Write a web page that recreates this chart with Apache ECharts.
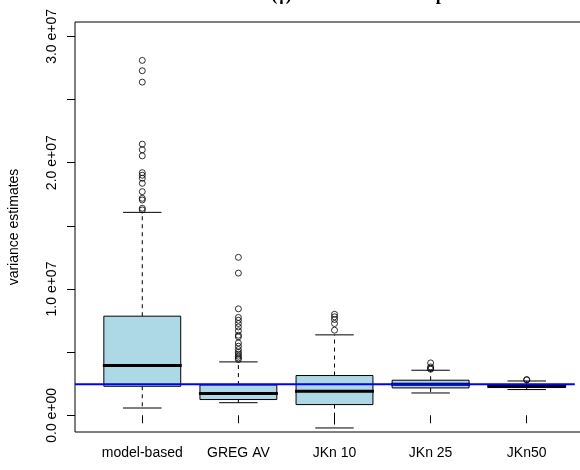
<!DOCTYPE html>
<html>
<head>
<meta charset="utf-8">
<script src="https://cdn.jsdelivr.net/npm/echarts@6/dist/echarts.min.js"></script>
<style>
  html, body { margin: 0; padding: 0; background: #fff; }
  #chart { width: 580px; height: 470px; }
</style>
</head>
<body>
<div id="chart"></div>
<script>
// Estimator groups shown along the x axis
const categories = ['model-based', 'GREG AV', 'JKn 10', 'JKn 25', 'JKn50'];

// Five-number summaries per estimator (whisker ends, quartiles, median)
const lowerWhisker = [0.58e6, 1.00e6, -1.00e6, 1.77e6, 2.04e6];
const q1Values     = [2.30e6, 1.25e6, 0.85e6, 2.17e6, 2.20e6];
const medianValues = [3.94e6, 1.72e6, 1.90e6, 2.46e6, 2.30e6];
const q3Values     = [7.85e6, 2.40e6, 3.15e6, 2.78e6, 2.42e6];
const upperWhisker = [16.07e6, 4.23e6, 6.37e6, 3.57e6, 2.72e6];

// Points beyond the whiskers, one list per estimator
const outliersModel = [28.1e6, 27.28e6, 26.38e6, 21.47e6, 21.02e6, 20.54e6, 19.21e6, 19.01e6,
  18.77e6, 18.37e6, 17.71e6, 17.18e6, 17.05e6, 16.39e6, 16.26e6];
const outliersGreg = [12.51e6, 11.26e6, 8.43e6, 7.75e6, 7.53e6, 7.27e6, 7.0e6, 6.69e6, 6.34e6,
  6.21e6, 5.73e6, 5.47e6, 5.21e6, 5.0e6, 4.84e6, 4.68e6, 4.54e6, 4.42e6];
const outliersJk10 = [8.0e6, 7.8e6, 7.59e6, 7.27e6, 6.74e6];
const outliersJk25 = [4.15e6, 3.83e6, 3.73e6, 3.65e6];
const outliersJk50 = [2.83e6, 2.80e6];

// Reference value drawn as a horizontal line
const referenceValue = 2.46e6;

// Y tick positions and labelled ticks
const yTicks = [0, 5e6, 10e6, 15e6, 20e6, 25e6, 30e6];
const yTickLabels = [0, 10e6, 20e6, 30e6];

const outlierGroups = [outliersModel, outliersGreg, outliersJk10, outliersJk25, outliersJk50];
const boxData = categories.map((c, i) => [i + 1, lowerWhisker[i], q1Values[i], medianValues[i], q3Values[i], upperWhisker[i]]);
const outlierData = [];
outlierGroups.forEach((g, i) => g.forEach(v => outlierData.push([i + 1, v])));

const chart = echarts.init(document.getElementById('chart'), null, { renderer: 'canvas' });

function renderBox(params, api) {
  const x = api.value(0);
  const lo = api.coord([x, api.value(1)]);
  const p1 = api.coord([x, api.value(2)]);
  const pm = api.coord([x, api.value(3)]);
  const p3 = api.coord([x, api.value(4)]);
  const hi = api.coord([x, api.value(5)]);
  const unit = api.size([1, 0])[0];
  const halfBox = unit * 0.4;
  const halfCap = unit * 0.2;
  const cx = lo[0];
  const line = (x1, y1, x2, y2, style) => ({ type: 'line', shape: { x1, y1, x2, y2 }, style });
  const dashed = { stroke: '#000', lineWidth: 1, lineDash: [4, 4] };
  const solid = { stroke: '#000', lineWidth: 1 };
  return {
    type: 'group',
    children: [
      line(cx, p3[1], cx, hi[1], dashed),
      line(cx, p1[1], cx, lo[1], dashed),
      line(cx - halfCap, hi[1], cx + halfCap, hi[1], solid),
      line(cx - halfCap, lo[1], cx + halfCap, lo[1], solid),
      { type: 'rect', shape: { x: cx - halfBox, y: p3[1], width: halfBox * 2, height: p1[1] - p3[1] },
        style: { fill: '#ADD8E6', stroke: '#000', lineWidth: 1 } },
      line(cx - halfBox - 1, pm[1], cx + halfBox + 1, pm[1], { stroke: '#000', lineWidth: 3 })
    ]
  };
}

chart.setOption({
  animation: false,
  backgroundColor: '#ffffff',
  title: {
    text: 'Variance estimates (γ) on the second sample',
    left: 118,
    top: -19,
    textStyle: { fontFamily: 'Liberation Serif', fontWeight: 'bold', fontSize: 18, color: '#000' }
  },
  grid: {
    left: 75, top: 22, bottom: 38, right: -14, outerBoundsMode: 'none',
    show: true, borderColor: '#000', borderWidth: 1, backgroundColor: 'transparent'
  },
  xAxis: {
    type: 'value', min: 0.3, max: 5.7,
    splitLine: { show: false },
    axisLine: { show: false },
    axisTick: { show: true, length: 8, customValues: [1, 2, 3, 4, 5], lineStyle: { color: '#000' } },
    axisLabel: {
      customValues: [1, 2, 3, 4, 5], margin: 14, color: '#000',
      fontFamily: 'Liberation Sans', fontSize: 14,
      formatter: v => categories[Math.round(v) - 1]
    }
  },
  yAxis: {
    type: 'value', min: -1.32e6, max: 31.14e6,
    name: 'variance estimates', nameLocation: 'middle', nameRotate: 90, nameGap: 54,
    nameTextStyle: { fontFamily: 'Liberation Sans', fontSize: 14, color: '#000' },
    splitLine: { show: false },
    axisLine: { show: false },
    axisTick: { show: true, length: 8, customValues: yTicks, lineStyle: { color: '#000' } },
    axisLabel: {
      customValues: yTickLabels, rotate: 90, margin: 16, color: '#000',
      fontFamily: 'Liberation Sans', fontSize: 14,
      formatter: v => (v === 0 ? '0.0 e+00' : (v / 1e7).toFixed(1) + ' e+07')
    }
  },
  series: [
    {
      type: 'custom', renderItem: renderBox, data: boxData, clip: true,
      encode: { x: 0, y: [1, 2, 3, 4, 5] }, z: 2
    },
    {
      type: 'scatter', data: outlierData, symbol: 'circle', symbolSize: 6,
      itemStyle: { color: 'transparent', borderColor: '#000', borderWidth: 1 }, z: 3
    },
    {
      type: 'line', data: [[0.3, referenceValue], [5.5, referenceValue]], symbol: 'none',
      lineStyle: { color: '#0000FF', width: 2 }, z: 4
    }
  ]
});
</script>
</body>
</html>
